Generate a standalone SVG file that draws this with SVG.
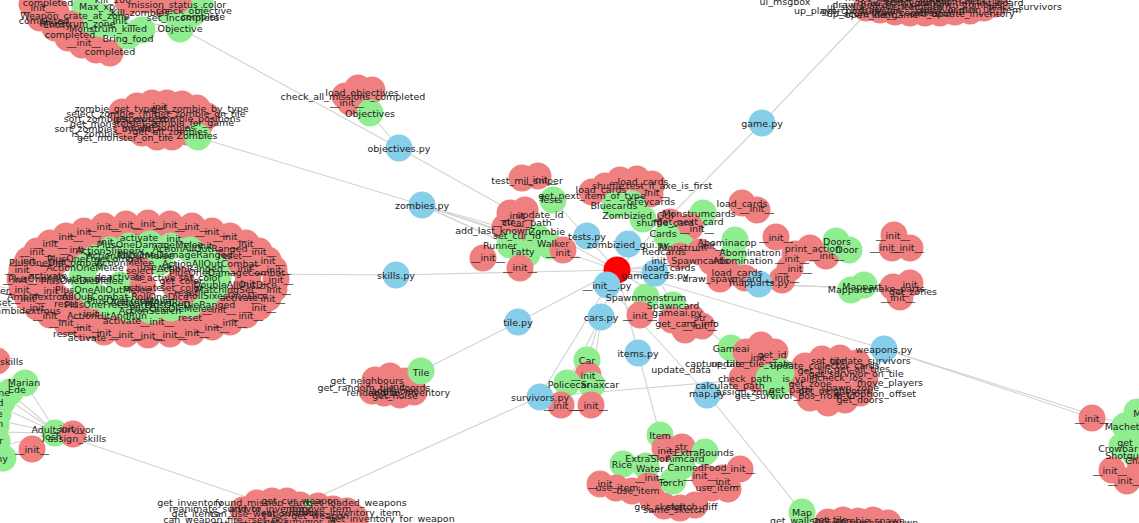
<svg xmlns="http://www.w3.org/2000/svg" xmlns:xlink="http://www.w3.org/1999/xlink" width="1139" height="523" viewBox="0 0 1139 523">
<style>
text{font-family:"DejaVu Sans","Liberation Sans",sans-serif;font-size:9.5px;fill:#222;text-anchor:middle;dominant-baseline:central}
#edges line{stroke:#d2d2d2;stroke-width:1.1}
</style>
<defs>
<circle id="R" r="13.5" fill="#f08080"/>
<circle id="G" r="13.5" fill="#90ee90"/>
<circle id="B" r="13.5" fill="#87ceeb"/>
</defs>
<rect width="1139" height="523" fill="#fff"/>
<g id="edges">
<line x1="617" y1="270" x2="399" y2="148"/><line x1="617" y1="270" x2="422" y2="205"/><line x1="617" y1="270" x2="396" y2="275"/><line x1="617" y1="270" x2="518" y2="322"/><line x1="617" y1="270" x2="586" y2="236"/><line x1="617" y1="270" x2="628" y2="244"/><line x1="617" y1="270" x2="655" y2="273"/><line x1="617" y1="270" x2="607" y2="285"/><line x1="617" y1="270" x2="601" y2="317"/><line x1="617" y1="270" x2="638" y2="353"/><line x1="617" y1="270" x2="539" y2="397"/><line x1="617" y1="270" x2="884" y2="349"/><line x1="617" y1="270" x2="762" y2="123"/><line x1="617" y1="270" x2="759" y2="284"/><line x1="617" y1="270" x2="690" y2="316"/><line x1="617" y1="270" x2="688" y2="266"/><line x1="617" y1="270" x2="757" y2="252"/>
<line x1="607" y1="285" x2="708" y2="395"/>
<line x1="399" y1="148" x2="180" y2="28"/><line x1="399" y1="148" x2="370" y2="113"/>
<line x1="422" y1="205" x2="197" y2="137"/><line x1="422" y1="205" x2="510" y2="245"/><line x1="422" y1="205" x2="540" y2="238"/><line x1="422" y1="205" x2="527" y2="253"/><line x1="422" y1="205" x2="550" y2="246"/>
<line x1="396" y1="275" x2="262" y2="274"/>
<line x1="518" y1="322" x2="421" y2="371"/>
<line x1="539" y1="397" x2="300" y2="505"/><line x1="539" y1="397" x2="860" y2="370"/>
<line x1="638" y1="353" x2="660" y2="435"/>
<line x1="708" y1="395" x2="802" y2="512"/>
<line x1="884" y1="349" x2="1092" y2="418"/><line x1="884" y1="349" x2="1125" y2="425"/>
<line x1="762" y1="123" x2="868" y2="12"/>
<line x1="57" y1="433" x2="255" y2="500"/>
<line x1="2" y1="395" x2="57" y2="433"/><line x1="-3" y1="405" x2="57" y2="433"/><line x1="-3" y1="420" x2="57" y2="433"/><line x1="-3" y1="447" x2="57" y2="433"/><line x1="3" y1="460" x2="57" y2="433"/><line x1="25" y1="383" x2="57" y2="433"/><line x1="-5" y1="380" x2="57" y2="433"/><line x1="-5" y1="432" x2="57" y2="433"/>
<line x1="-10" y1="285" x2="75" y2="300"/><line x1="-10" y1="292" x2="80" y2="302"/><line x1="-10" y1="300" x2="70" y2="304"/><line x1="-10" y1="308" x2="65" y2="306"/>
<line x1="601" y1="317" x2="587" y2="360"/><line x1="601" y1="317" x2="567" y2="383"/><line x1="601" y1="317" x2="592" y2="384"/>
<line x1="759" y1="284" x2="855" y2="288"/><line x1="759" y1="284" x2="837" y2="242"/><line x1="759" y1="284" x2="900" y2="290"/>
<line x1="690" y1="316" x2="730" y2="348"/>
<line x1="586" y1="236" x2="553" y2="200"/><line x1="628" y1="244" x2="640" y2="216"/>
<line x1="655" y1="273" x2="663" y2="233"/><line x1="655" y1="273" x2="646" y2="297"/><line x1="655" y1="273" x2="673" y2="305"/>
<line x1="180" y1="28" x2="100" y2="15"/><line x1="180" y1="28" x2="60" y2="12"/><line x1="180" y1="28" x2="128" y2="36"/>
</g>
<g id="nodes">
<g id="cluster-objective">
<use href="#G" x="85" y="8"/><use href="#G" x="100" y="16"/><use href="#G" x="95" y="28"/><use href="#G" x="115" y="24"/><use href="#G" x="168" y="10"/><use href="#G" x="192" y="14"/><use href="#G" x="200" y="2"/>
<use href="#R" x="32" y="4"/><use href="#R" x="47" y="0"/><use href="#R" x="40" y="18"/><use href="#R" x="56" y="12"/><use href="#R" x="55" y="28"/><use href="#R" x="70" y="24"/><use href="#R" x="68" y="38"/><use href="#R" x="82" y="45"/><use href="#R" x="96" y="50"/><use href="#R" x="110" y="53"/><use href="#R" x="128" y="2"/><use href="#R" x="145" y="0"/><use href="#R" x="160" y="2"/><use href="#R" x="178" y="0"/>
<use href="#G" x="128" y="36"/><use href="#G" x="142" y="30"/><use href="#G" x="180" y="29"/>
</g>
<g id="cluster-zombies">
<use href="#R" x="122" y="112"/><use href="#R" x="137" y="106"/><use href="#R" x="152" y="103"/><use href="#R" x="167" y="103"/><use href="#R" x="182" y="104"/><use href="#R" x="197" y="108"/><use href="#R" x="207" y="116"/><use href="#R" x="127" y="127"/><use href="#R" x="142" y="133"/><use href="#R" x="157" y="137"/><use href="#R" x="172" y="137"/><use href="#R" x="187" y="132"/><use href="#R" x="200" y="124"/><use href="#R" x="160" y="120"/><use href="#R" x="180" y="120"/>
<use href="#G" x="198" y="137"/>
</g>
<g id="cluster-objectives">
<use href="#R" x="345" y="96"/><use href="#R" x="358" y="88"/><use href="#R" x="372" y="90"/><use href="#R" x="350" y="102"/>
<use href="#G" x="370" y="113"/>
</g>
<g id="cluster-skills">
<use href="#R" x="276" y="279"/><use href="#R" x="274" y="289"/><use href="#R" x="268" y="298"/><use href="#R" x="259" y="307"/><use href="#R" x="246" y="315"/><use href="#R" x="230" y="322"/><use href="#R" x="212" y="327"/><use href="#R" x="192" y="332"/><use href="#R" x="170" y="334"/><use href="#R" x="148" y="335"/><use href="#R" x="126" y="334"/><use href="#R" x="104" y="332"/><use href="#R" x="84" y="327"/><use href="#R" x="66" y="322"/><use href="#R" x="50" y="315"/><use href="#R" x="37" y="307"/><use href="#R" x="28" y="298"/><use href="#R" x="22" y="289"/><use href="#R" x="20" y="279"/><use href="#R" x="22" y="269"/><use href="#R" x="28" y="260"/><use href="#R" x="37" y="251"/><use href="#R" x="50" y="243"/><use href="#R" x="66" y="236"/><use href="#R" x="84" y="231"/><use href="#R" x="104" y="226"/><use href="#R" x="126" y="224"/><use href="#R" x="148" y="223"/><use href="#R" x="170" y="224"/><use href="#R" x="192" y="226"/><use href="#R" x="212" y="231"/><use href="#R" x="230" y="236"/><use href="#R" x="246" y="243"/><use href="#R" x="259" y="251"/><use href="#R" x="268" y="260"/><use href="#R" x="274" y="269"/>
<use href="#R" x="248" y="283"/><use href="#R" x="245" y="290"/><use href="#R" x="239" y="297"/><use href="#R" x="230" y="303"/><use href="#R" x="219" y="309"/><use href="#R" x="205" y="313"/><use href="#R" x="190" y="317"/><use href="#R" x="174" y="320"/><use href="#R" x="157" y="321"/><use href="#R" x="139" y="321"/><use href="#R" x="122" y="320"/><use href="#R" x="106" y="317"/><use href="#R" x="91" y="313"/><use href="#R" x="77" y="309"/><use href="#R" x="66" y="303"/><use href="#R" x="57" y="297"/><use href="#R" x="51" y="290"/><use href="#R" x="48" y="283"/><use href="#R" x="48" y="275"/><use href="#R" x="51" y="268"/><use href="#R" x="57" y="261"/><use href="#R" x="66" y="255"/><use href="#R" x="77" y="249"/><use href="#R" x="91" y="245"/><use href="#R" x="106" y="241"/><use href="#R" x="122" y="238"/><use href="#R" x="139" y="237"/><use href="#R" x="157" y="237"/><use href="#R" x="174" y="238"/><use href="#R" x="190" y="241"/><use href="#R" x="205" y="245"/><use href="#R" x="219" y="249"/><use href="#R" x="230" y="255"/><use href="#R" x="239" y="261"/><use href="#R" x="245" y="268"/><use href="#R" x="248" y="275"/>
<use href="#G" x="218" y="277"/><use href="#G" x="215" y="287"/><use href="#G" x="205" y="296"/><use href="#G" x="190" y="304"/><use href="#G" x="171" y="308"/><use href="#G" x="150" y="310"/><use href="#G" x="129" y="308"/><use href="#G" x="110" y="304"/><use href="#G" x="95" y="296"/><use href="#G" x="85" y="287"/><use href="#G" x="82" y="277"/><use href="#G" x="85" y="267"/><use href="#G" x="95" y="258"/><use href="#G" x="110" y="250"/><use href="#G" x="129" y="246"/><use href="#G" x="150" y="244"/><use href="#G" x="171" y="246"/><use href="#G" x="190" y="250"/><use href="#G" x="205" y="258"/><use href="#G" x="215" y="267"/><use href="#G" x="160" y="262"/><use href="#G" x="120" y="285"/>
<use href="#R" x="140" y="270"/><use href="#R" x="143" y="287"/><use href="#R" x="181" y="280"/><use href="#R" x="186" y="290"/><use href="#R" x="175" y="286"/>
</g>
<g id="cluster-survivors">
<use href="#R" x="-3" y="361"/>
<use href="#G" x="25" y="383"/><use href="#G" x="10" y="392"/><use href="#G" x="2" y="402"/><use href="#G" x="-2" y="414"/><use href="#G" x="-4" y="426"/><use href="#G" x="-3" y="441"/><use href="#G" x="3" y="458"/>
<use href="#R" x="32" y="449"/><use href="#G" x="55" y="433"/><use href="#R" x="73" y="434"/>
</g>
<g id="cluster-weapons-bottom">
<use href="#R" x="243" y="510"/><use href="#R" x="257" y="503"/><use href="#R" x="272" y="501"/><use href="#R" x="287" y="501"/><use href="#R" x="300" y="505"/><use href="#R" x="318" y="506"/><use href="#R" x="333" y="509"/><use href="#R" x="347" y="511"/><use href="#R" x="355" y="518"/><use href="#R" x="252" y="520"/><use href="#R" x="270" y="518"/><use href="#R" x="290" y="520"/><use href="#R" x="310" y="521"/><use href="#R" x="330" y="523"/>
<circle cx="309" cy="503" r="4" fill="#90ee90"/>
</g>
<g id="cluster-tile">
<use href="#R" x="375" y="380"/><use href="#R" x="390" y="376"/><use href="#R" x="405" y="381"/><use href="#R" x="414" y="392"/><use href="#R" x="400" y="395"/><use href="#R" x="384" y="393"/><use href="#R" x="372" y="391"/>
<use href="#G" x="421" y="371"/>
</g>
<g id="cluster-game">
<use href="#R" x="866" y="8"/><use href="#R" x="880" y="10"/><use href="#R" x="895" y="12"/><use href="#R" x="910" y="13"/><use href="#R" x="925" y="13"/><use href="#R" x="940" y="13"/><use href="#R" x="955" y="12"/><use href="#R" x="970" y="11"/><use href="#R" x="984" y="8"/><use href="#R" x="995" y="4"/><use href="#R" x="875" y="-2"/><use href="#R" x="905" y="0"/><use href="#R" x="935" y="0"/><use href="#R" x="965" y="0"/><use href="#R" x="990" y="-4"/>
</g>
<g id="cluster-weapons-right">
<use href="#R" x="1092" y="418"/><use href="#G" x="1137" y="412"/><use href="#G" x="1125" y="426"/><use href="#G" x="1139" y="432"/><use href="#G" x="1122" y="446"/><use href="#G" x="1136" y="455"/>
<use href="#R" x="1112" y="470"/><use href="#R" x="1127" y="481"/><use href="#R" x="1140" y="470"/>
</g>
<g id="cluster-map-bottom">
<use href="#R" x="828" y="522"/><use href="#R" x="843" y="520"/><use href="#R" x="858" y="521"/><use href="#R" x="873" y="520"/><use href="#R" x="888" y="523"/>
<use href="#G" x="802" y="512"/>
</g>
<g id="cluster-items">
<use href="#G" x="660" y="435"/>
<use href="#R" x="665" y="448"/><use href="#R" x="682" y="447"/>
<use href="#G" x="705" y="452"/><use href="#G" x="623" y="464"/><use href="#G" x="646" y="466"/><use href="#G" x="682" y="466"/>
<use href="#R" x="600" y="484"/><use href="#R" x="616" y="488"/><use href="#R" x="632" y="491"/><use href="#R" x="648" y="486"/><use href="#R" x="652" y="498"/><use href="#R" x="664" y="506"/><use href="#R" x="680" y="508"/><use href="#R" x="695" y="505"/><use href="#R" x="705" y="478"/><use href="#R" x="722" y="478"/><use href="#R" x="740" y="469"/><use href="#R" x="728" y="489"/><use href="#R" x="712" y="488"/>
<use href="#G" x="673" y="481"/>
</g>
<g id="cluster-map">
<use href="#G" x="731" y="348"/>
<use href="#R" x="746" y="352"/><use href="#R" x="761" y="345"/><use href="#R" x="775" y="352"/><use href="#R" x="750" y="366"/><use href="#R" x="766" y="362"/><use href="#R" x="742" y="378"/><use href="#R" x="757" y="379"/>
<use href="#R" x="805" y="366"/><use href="#R" x="822" y="359"/><use href="#R" x="840" y="358"/><use href="#R" x="857" y="363"/><use href="#R" x="865" y="378"/><use href="#R" x="860" y="393"/><use href="#R" x="845" y="400"/><use href="#R" x="828" y="403"/><use href="#R" x="810" y="398"/><use href="#R" x="800" y="385"/><use href="#R" x="818" y="380"/><use href="#R" x="838" y="382"/>
<use href="#G" x="769" y="378"/><use href="#G" x="781" y="372"/><use href="#G" x="776" y="386"/>
</g>
<g id="cluster-cars">
<use href="#G" x="587" y="360"/><use href="#R" x="588" y="375"/><use href="#G" x="567" y="383"/><use href="#G" x="592" y="385"/><use href="#R" x="561" y="405"/><use href="#R" x="591" y="405"/>
</g>
<g id="cluster-zombie-classes">
<use href="#R" x="522" y="178"/><use href="#R" x="538" y="176"/>
<use href="#G" x="553" y="200"/>
<use href="#R" x="510" y="213"/><use href="#R" x="525" y="210"/><use href="#R" x="505" y="227"/><use href="#R" x="520" y="228"/>
<use href="#G" x="510" y="245"/><use href="#G" x="538" y="238"/><use href="#G" x="550" y="246"/><use href="#G" x="527" y="254"/>
<use href="#R" x="563" y="250"/><use href="#R" x="483" y="258"/><use href="#R" x="520" y="268"/>
</g>
<g id="cluster-cards">
<use href="#R" x="592" y="192"/><use href="#R" x="605" y="186"/><use href="#R" x="620" y="180"/><use href="#R" x="637" y="179"/><use href="#R" x="652" y="184"/><use href="#R" x="650" y="194"/>
<use href="#G" x="615" y="205"/><use href="#G" x="632" y="204"/><use href="#G" x="643" y="219"/><use href="#G" x="703" y="213"/>
<use href="#R" x="670" y="222"/><use href="#R" x="690" y="227"/><use href="#R" x="742" y="203"/><use href="#R" x="757" y="210"/>
<use href="#G" x="667" y="236"/><use href="#G" x="682" y="247"/><use href="#G" x="735" y="240"/><use href="#G" x="733" y="255"/>
<use href="#R" x="680" y="256"/><use href="#R" x="700" y="252"/><use href="#R" x="712" y="262"/><use href="#R" x="727" y="272"/><use href="#R" x="745" y="278"/><use href="#R" x="720" y="279"/>
<use href="#R" x="776" y="237"/><use href="#R" x="795" y="254"/><use href="#R" x="810" y="248"/><use href="#R" x="826" y="256"/><use href="#R" x="790" y="268"/><use href="#R" x="782" y="280"/>
<use href="#G" x="836" y="241"/><use href="#G" x="849" y="250"/>
<use href="#R" x="894" y="235"/><use href="#R" x="892" y="248"/><use href="#R" x="910" y="248"/>
<use href="#G" x="851" y="290"/><use href="#G" x="864" y="285"/>
<use href="#R" x="893" y="287"/><use href="#R" x="910" y="283"/><use href="#R" x="900" y="297"/>
<use href="#G" x="646" y="297"/><use href="#G" x="673" y="305"/>
<use href="#R" x="640" y="315"/><use href="#R" x="672" y="320"/><use href="#R" x="692" y="318"/><use href="#R" x="702" y="326"/><use href="#R" x="685" y="330"/>
</g>
<g id="n-center"><circle cx="617" cy="270" r="13.5" fill="#ff0000"/></g>
<g id="n-objectives-py"><use href="#B" x="399" y="148"/></g>
<g id="n-zombies-py"><use href="#B" x="422" y="205"/></g>
<g id="n-skills-py"><use href="#B" x="396" y="275"/></g>
<g id="n-tile-py"><use href="#B" x="518" y="322"/></g>
<g id="n-tests-py"><use href="#B" x="587" y="236"/></g>
<g id="n-zombizied-gui-py"><use href="#B" x="628" y="244"/></g>
<g id="n-gamecards-py"><use href="#B" x="655" y="273"/></g>
<g id="n-init-py"><use href="#B" x="607" y="285"/></g>
<g id="n-cars-py"><use href="#B" x="601" y="317"/></g>
<g id="n-items-py"><use href="#B" x="638" y="353"/></g>
<g id="n-survivors-py"><use href="#B" x="540" y="397"/></g>
<g id="n-map-py"><use href="#B" x="707" y="395"/></g>
<g id="n-weapons-py"><use href="#B" x="884" y="349"/></g>
<g id="n-game-py"><use href="#B" x="762" y="123"/></g>
<g id="n-mapparts-py"><use href="#B" x="759" y="284"/></g>
</g>
<g id="labels">
<text x="48" y="2">completed</text><text x="38" y="7">__init__</text><text x="97" y="6">Max_xp</text><text x="113" y="-1">kill_100</text><text x="177" y="4">mission_status_color</text><text x="194" y="10">check_objective</text><text x="75" y="15">Weapon_crate_at_zone</text><text x="183" y="17">set_incomplete</text><text x="203" y="16">complete</text><text x="44" y="20">completed</text><text x="78" y="23">Monstrum_zone</text><text x="57" y="24">Entity</text><text x="108" y="28">Monstrum_killed</text><text x="180" y="28">Objective</text><text x="70" y="34">completed</text><text x="128" y="38">Bring_food</text><text x="84" y="42">__init__</text><text x="110" y="51">completed</text><text x="140" y="12">Kill_zombies</text><text x="120" y="20">__init__</text>
<text x="115" y="108">zombie_get_type</text><text x="200" y="108">get_zombie_by_type</text><text x="160" y="106">__init__</text><text x="100" y="113">select_zombie</text><text x="200" y="113">get_zombie_on_tile</text><text x="150" y="113">__init__</text><text x="95" y="118">sort_zombies</text><text x="182" y="118">spawn_zombie_positions</text><text x="140" y="118">get_closest</text><text x="100" y="123">get_monster</text><text x="182" y="122">get_zombie_for_game</text><text x="105" y="128">sort_zombies_by_dist</text><text x="160" y="127">move_zombies</text><text x="95" y="133">is_zombie</text><text x="170" y="131">get_all_zombies</text><text x="125" y="137">get_monster_on_tile</text><text x="197" y="135">Zombies</text><text x="150" y="124">__init__</text>
<text x="362" y="92">load_objectives</text><text x="353" y="96">check_all_missions_completed</text><text x="347" y="102">__init__</text><text x="370" y="113">Objectives</text>
<text x="276" y="279">__init__</text><text x="274" y="289">__init__</text><text x="268" y="298">__init__</text><text x="259" y="307">__init__</text><text x="246" y="315">__init__</text><text x="230" y="322">__init__</text><text x="212" y="327">__init__</text><text x="192" y="332">__init__</text><text x="170" y="334">__init__</text><text x="148" y="335">__init__</text><text x="126" y="334">__init__</text><text x="104" y="332">__init__</text><text x="84" y="327">__init__</text><text x="66" y="322">__init__</text><text x="50" y="315">__init__</text><text x="37" y="307">__init__</text><text x="28" y="298">__init__</text><text x="22" y="289">__init__</text><text x="20" y="279">__init__</text><text x="22" y="269">__init__</text><text x="28" y="260">__init__</text><text x="37" y="251">__init__</text><text x="50" y="243">__init__</text><text x="66" y="236">__init__</text><text x="84" y="231">__init__</text><text x="104" y="226">__init__</text><text x="126" y="224">__init__</text><text x="148" y="223">__init__</text><text x="170" y="224">__init__</text><text x="192" y="226">__init__</text><text x="212" y="231">__init__</text><text x="230" y="236">__init__</text><text x="246" y="243">__init__</text><text x="259" y="251">__init__</text><text x="268" y="260">__init__</text><text x="274" y="269">__init__</text>
<text x="248" y="283">__init__</text><text x="239" y="297">activate</text><text x="219" y="309">__init__</text><text x="190" y="317">reset</text><text x="157" y="321">__init__</text><text x="122" y="320">activate</text><text x="91" y="313">__init__</text><text x="66" y="303">reset</text><text x="51" y="290">__init__</text><text x="48" y="275">activate</text><text x="57" y="261">__init__</text><text x="77" y="249">__init__</text><text x="106" y="241">__init__</text><text x="139" y="237">activate</text><text x="174" y="238">__init__</text><text x="205" y="245">__init__</text><text x="230" y="255">reset</text><text x="245" y="268">__init__</text>
<text x="210" y="263">ActionAllOutCombat</text><text x="227" y="272">PlusOneDamageCombat</text><text x="235" y="284">DoubleAllOutDice</text><text x="225" y="289">MatchingSet</text><text x="182" y="287">set_color</text><text x="227" y="295">RollSixesOneDice</text><text x="107" y="315">ActionHitAndRun</text><text x="87" y="337">activate</text><text x="65" y="333">reset</text>
<text x="103" y="289">PlusOneAllOutMelee</text><text x="60" y="278">PlusOneAllOutRanged</text><text x="55" y="262">PlusOneDieCombat</text><text x="200" y="248">ActionAllOutRanged</text><text x="150" y="244">PlusOneDamageMelee</text><text x="110" y="250">ActionSlippery</text><text x="95" y="258">PlusOneFreeCombat</text><text x="85" y="267">ActionOneMelee</text><text x="130" y="255">ActionAllOutMelee</text><text x="175" y="254">PlusOneDamageRanged</text><text x="190" y="304">PlusOneDieRanged</text><text x="171" y="308">PlusOneDieMelee</text><text x="150" y="310">ActionSearch</text><text x="129" y="300">PlusOneFreeMove</text><text x="110" y="304">PlusOneFreeSearch</text><text x="95" y="296">AllOutCombat</text><text x="82" y="280">PlusOneDieMelee</text>
<text x="140" y="270">select</text><text x="143" y="287">activate</text><text x="181" y="280">get_color</text><text x="186" y="292">reset</text><text x="160" y="266">use_skill</text><text x="155" y="277">is_active</text><text x="120" y="276">deactivate</text><text x="200" y="277">set_color</text><text x="160" y="296">RollOneDice</text><text x="125" y="262">ActionMelee</text><text x="190" y="268">ActionRanged</text><text x="150" y="302">ActionHitAndRun</text>
<text x="40" y="296">Ambidextrous</text><text x="28" y="310">ambidextrous</text><text x="3" y="290">ter</text><text x="4" y="302">set</text>
<text x="-6" y="361">assign_skills</text><text x="24" y="382">Marian</text><text x="17" y="389">Ede</text><text x="-6" y="392">Wayne</text><text x="-6" y="402">Ned</text><text x="-8" y="413">Kate</text><text x="-6" y="423">Ben</text><text x="-10" y="440">Omar</text><text x="-7" y="458">Jimmy</text>
<text x="32" y="449">__init__</text><text x="63" y="429">Adultsurvivor</text><text x="67" y="428">__init__</text><text x="77" y="438">assign_skills</text><text x="52" y="436">Josh</text>
<text x="190" y="502">get_inventory</text><text x="262" y="502">found_mission_card</text><text x="300" y="500">get_cur_weapon</text><text x="357" y="502">get_loaded_weapons</text><text x="215" y="508">reanimate_survivor</text><text x="270" y="508">add_to_inventory</text><text x="320" y="508">remove_item</text><text x="345" y="512">remove_inventory_item</text><text x="195" y="513">get_items</text><text x="250" y="513">can_use_weapon</text><text x="203" y="519">can_weapon_fire</text><text x="392" y="518">get_inventory_for_weapon</text><text x="270" y="519">set_pos</text><text x="300" y="521">get_survivor_id</text><text x="240" y="523">get_actions</text><text x="320" y="515">get_weapon</text><text x="290" y="512">set_survivor</text>
<text x="421" y="372">Tile</text><text x="367" y="380">get_neighbours</text><text x="374" y="387">get_random_tile_coords</text><text x="372" y="392">render_tile</text><text x="409" y="392">add_to_inventory</text><text x="395" y="395">get_noise</text><text x="395" y="390">add_noise</text><text x="398" y="386">__init__</text>
<text x="785" y="1">ui_msgbox</text><text x="828" y="10">up_player_pos</text><text x="848" y="13">up_score</text><text x="860" y="4">draw_board</text><text x="880" y="9">draw_tile</text><text x="893" y="2">draw_survivors</text><text x="905" y="12">draw_zombies</text><text x="920" y="6">next_turn</text><text x="930" y="13">end_turn</text><text x="945" y="2">zombie_turn</text><text x="950" y="9">survivor_turn</text><text x="965" y="4">spawn_zombies</text><text x="880" y="-3">move_survivor</text><text x="915" y="-2">attack_zombie</text><text x="955" y="-3">search_tile</text><text x="870" y="14">open_door</text><text x="990" y="9">pick_up_item</text><text x="900" y="6">trade_items</text><text x="940" y="10">check_win</text><text x="985" y="0">check_lose</text><text x="860" y="10">get_cur_survivor</text><text x="920" y="1">select_survivor</text><text x="895" y="14">init_game</text><text x="973" y="13">update_inventory</text><text x="1025" y="6">place_survivors</text><text x="1000" y="2">init_board</text><text x="845" y="6">ui_skills</text>
<text x="1092" y="418">__init__</text><text x="1152" y="413">Molotov</text><text x="1125" y="426">Machete</text><text x="1125" y="442">get</text><text x="1118" y="448">Crowbar</text><text x="1125" y="455">Shotgun</text><text x="1148" y="460">Chainsaw</text><text x="1110" y="470">__init__</text><text x="1125" y="480">__init__</text>
<text x="802" y="512">Map</text><text x="792" y="520">get_walls</text><text x="830" y="519">get_tile</text><text x="860" y="520">get_zombie_spawn</text><text x="872" y="522">add_zombie_spawn</text>
<text x="660" y="435">Item</text><text x="665" y="450">__init__</text><text x="681" y="446">__str__</text><text x="704" y="452">ExtraRounds</text><text x="647" y="458">ExtraSlot</text><text x="685" y="458">Aimcard</text><text x="622" y="464">Rice</text><text x="650" y="468">Water</text><text x="697" y="467">CannedFood</text><text x="738" y="468">__init__</text><text x="652" y="477">__init__</text><text x="700" y="475">__init__</text><text x="671" y="482">Torch</text><text x="723" y="481">__init__</text><text x="605" y="483">__init__</text><text x="617" y="487">use_item</text><text x="638" y="490">use_item</text><text x="717" y="487">use_item</text><text x="660" y="506">get_sketch</text><text x="692" y="506">sketch_diff</text><text x="674" y="509">same_sketch</text>
<text x="731" y="348">Gameai</text><text x="772" y="354">get_id</text><text x="758" y="357">__init__</text><text x="713" y="363">capture_tile</text><text x="752" y="363">update_tile_state</text><text x="825" y="365">update_collector_cards</text><text x="862" y="368">get_all_tiles</text><text x="856" y="373">get_survivor_on_tile</text><text x="890" y="382">move_players</text><text x="745" y="378">check_path</text><text x="730" y="385">calculate_path</text><text x="745" y="391">assign_zone</text><text x="795" y="395">get_survivor_pos_from_id</text><text x="875" y="393">get_option_offset</text><text x="681" y="369">update_data</text><text x="815" y="370">get_tile</text><text x="840" y="377">check_los</text><text x="810" y="383">get_zone</text><text x="850" y="387">spawn_zone</text><text x="828" y="360">set_tile</text><text x="800" y="378">is_valid</text><text x="835" y="390">get_neighbours</text><text x="790" y="389">get_path</text><text x="870" y="360">update_survivors</text><text x="860" y="399">get_doors</text>
<text x="587" y="360">Car</text><text x="588" y="375">__init__</text><text x="569" y="384">Policecar</text><text x="600" y="384">Snaxcar</text><text x="561" y="405">__init__</text><text x="591" y="405">__init__</text>
<text x="527" y="180">test_mil_sniper</text><text x="540" y="179">__init__</text><text x="551" y="199">Tests</text><text x="592" y="195">get_next_item_of_type</text>
<text x="540" y="214">update_id</text><text x="517" y="215">__init__</text><text x="508" y="221">__str__</text><text x="527" y="222">clear_path</text><text x="493" y="230">add_last_known</text><text x="547" y="231">Zombie</text><text x="517" y="235">set_cur_id</text><text x="553" y="243">Walker</text><text x="500" y="245">Runner</text><text x="523" y="251">Fatty</text><text x="563" y="252">__init__</text><text x="488" y="257">__init__</text><text x="520" y="267">__init__</text>
<text x="643" y="181">load_cards</text><text x="608" y="185">shuffle</text><text x="601" y="189">load_cards</text><text x="669" y="185">test_if_axe_is_first</text><text x="652" y="192">__init__</text><text x="651" y="201">Greycards</text><text x="614" y="205">Bluecards</text><text x="638" y="215">Zombizied_GUI</text><text x="699" y="213">Monstrumcards</text><text x="665" y="222">shuffle_card</text><text x="690" y="221">get_next_card</text><text x="697" y="228">__init__</text><text x="663" y="233">Cards</text><text x="664" y="251">Redcards</text><text x="683" y="247">Monstrum</text><text x="708" y="245">__init__</text><text x="727" y="242">Abominacop</text><text x="742" y="203">load_cards</text><text x="757" y="208">__init__</text><text x="690" y="260">init_Spawncards</text><text x="670" y="267">load_cards</text><text x="722" y="278">draw_spawncard</text><text x="737" y="272">load_cards</text><text x="750" y="252">Abominatron</text><text x="743" y="260">Abomination</text><text x="776" y="237">__init__</text><text x="813" y="248">print_action</text><text x="837" y="241">Doors</text><text x="847" y="249">Door</text><text x="827" y="255">__init__</text><text x="792" y="258">__init__</text><text x="795" y="268">__init__</text><text x="782" y="277">__init__</text><text x="893" y="235">__init__</text><text x="887" y="247">__init__</text><text x="907" y="247">__init__</text><text x="862" y="286">Mappart</text><text x="850" y="289">Mapparts</text><text x="897" y="288">make_parts</text><text x="913" y="291">get_zones</text><text x="898" y="297">__init__</text><text x="910" y="284">__init__</text>
<text x="646" y="297">Spawnmonstrum</text><text x="673" y="305">Spawncard</text><text x="640" y="315">__init__</text><text x="677" y="312">gameai.py</text><text x="700" y="317">__str__</text><text x="687" y="323">get_card_info</text><text x="700" y="325">__init__</text>
<text x="399" y="148">objectives.py</text><text x="422" y="205">zombies.py</text><text x="396" y="275">skills.py</text><text x="518" y="322">tile.py</text><text x="587" y="236">tests.py</text><text x="628" y="244">zombizied_gui.py</text><text x="655" y="275">gamecards.py</text><text x="607" y="285">__init__.py</text><text x="601" y="317">cars.py</text><text x="638" y="353">items.py</text><text x="540" y="397">survivors.py</text><text x="707" y="393">map.py</text><text x="884" y="349">weapons.py</text><text x="762" y="123">game.py</text><text x="759" y="282">mapparts.py</text>
</g>
</svg>
